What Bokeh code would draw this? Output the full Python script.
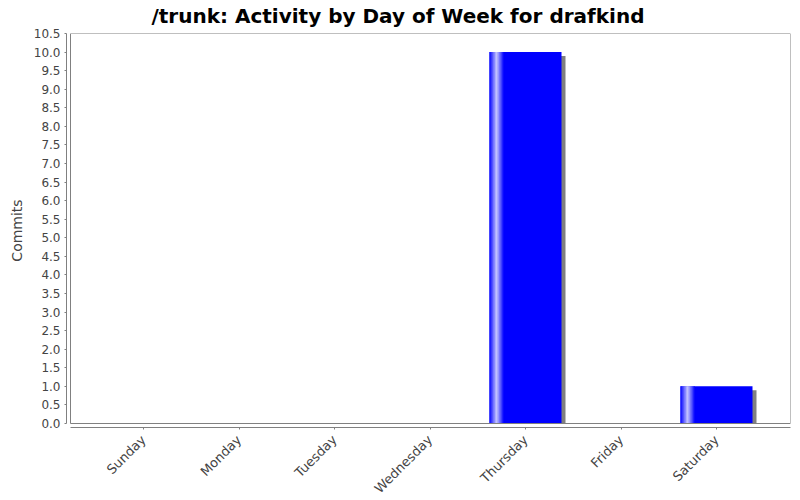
from bokeh.plotting import figure
from bokeh.embed import file_html
from bokeh.resources import INLINE
from bokeh.models import FixedTicker, BoxAnnotation, PrintfTickFormatter
import math

# ---- data ----
days = ["Sunday", "Monday", "Tuesday", "Wednesday", "Thursday", "Friday", "Saturday"]
commits = [0, 0, 0, 0, 10, 0, 1]
y_ticks = [0.0, 0.5, 1.0, 1.5, 2.0, 2.5, 3.0, 3.5, 4.0, 4.5, 5.0, 5.5,
           6.0, 6.5, 7.0, 7.5, 8.0, 8.5, 9.0, 9.5, 10.0, 10.5]
title_text = "/trunk: Activity by Day of Week for drafkind"
y_label = "Commits"

# ---- geometry (styles) ----
FONT = "DejaVu Sans"
frame_w, frame_h = 724, 394
px_x = 95.5              # pixels per category
y_max = 10.5
px_y = 390 / y_max       # pixels per unit
x_start = -77 / px_x
x_end = x_start + frame_w / px_x
y_start = -4 / px_y
gap_x = 4 / px_x
bar_w = 0.754
sh_dx = 4 / px_x
sh_dy = 4 / px_y

p = figure(frame_width=frame_w, frame_height=frame_h,
           x_range=(x_start, x_end), y_range=(y_start, y_max),
           output_backend="svg", toolbar_location=None,
           min_border_left=66, min_border_right=10,
           min_border_top=33, min_border_bottom=73,
           background_fill_color="white", border_fill_color="white")
p.outline_line_color = None
p.xgrid.visible = False
p.ygrid.visible = False

p.title.text = title_text
p.title.text_font = FONT
p.title.text_font_size = "20px"
p.title.text_font_style = "bold"
p.title.text_color = "black"
p.title.align = "left"
p.title.vertical_align = "top"
p.title.offset = 85
p.title.standoff = 7

# plot-area outline
p.add_layout(BoxAnnotation(left=x_start + gap_x, right=x_end, bottom=0, top=y_max,
                           fill_alpha=0, line_color="#808080", line_alpha=1.0,
                           line_width=1))

xs = list(range(len(days)))

# shadows
sl, sr, st, sb = [], [], [], []
for x, v in zip(xs, commits):
    if v > 0:
        sl.append(x - bar_w / 2 + sh_dx)
        sr.append(x + bar_w / 2 + sh_dx)
        st.append(v - sh_dy)
        sb.append(0)
p.quad(left=sl, right=sr, top=st, bottom=sb, fill_color="#808080", line_color=None)

# main bars (solid)
p.quad(left=[x - bar_w / 2 for x in xs], right=[x + bar_w / 2 for x in xs],
       top=commits, bottom=[0] * len(xs), fill_color="#0000ff", line_color=None)

# gradient highlight stripes (blue -> white -> blue over the first 20% of each bar)
n = 10
gl, gr, gt, gb, gc = [], [], [], [], []
for x, v in zip(xs, commits):
    if v <= 0:
        continue
    L = x - bar_w / 2
    seg = 0.1 * bar_w / n
    for region in range(2):
        for k in range(n):
            t = (k + 0.5) / n
            f = t if region == 0 else 1 - t
            c = int(round(255 * f))
            gl.append(L + (region * n + k) * seg)
            gr.append(L + (region * n + k + 1) * seg + 1e-4)
            gt.append(v)
            gb.append(0)
            gc.append("#%02x%02x%02x" % (c, c, 255))
p.quad(left=gl, right=gr, top=gt, bottom=gb, fill_color=gc, line_color=None)

# axes
xa = p.xaxis[0]
xa.ticker = FixedTicker(ticks=xs)
xa.major_label_overrides = {i: d for i, d in enumerate(days)}
xa.major_label_orientation = math.pi / 4
xa.bounds = (x_start + gap_x, x_end)
xa.axis_line_color = "#808080"
xa.major_tick_line_color = "#808080"
xa.major_tick_out = 2
xa.major_tick_in = 0
xa.minor_tick_line_color = None
xa.major_label_text_font = FONT
xa.major_label_text_font_size = "13px"
xa.major_label_text_color = "#444444"
xa.major_label_standoff = 8

ya = p.yaxis[0]
ya.ticker = FixedTicker(ticks=y_ticks)
ya.formatter = PrintfTickFormatter(format="%.1f")
ya.bounds = (0, y_max)
ya.axis_line_color = "#808080"
ya.major_tick_line_color = "#808080"
ya.major_tick_out = 2
ya.major_tick_in = 0
ya.minor_tick_line_color = None
ya.major_label_text_font = FONT
ya.major_label_text_font_size = "12px"
ya.major_label_text_color = "#444444"
ya.major_label_standoff = 4
ya.axis_label = y_label
ya.axis_label_text_font = FONT
ya.axis_label_text_font_size = "14px"
ya.axis_label_text_font_style = "normal"
ya.axis_label_text_color = "#444444"
ya.axis_label_standoff = 6

open("out.html", "w").write(file_html(p, INLINE))
